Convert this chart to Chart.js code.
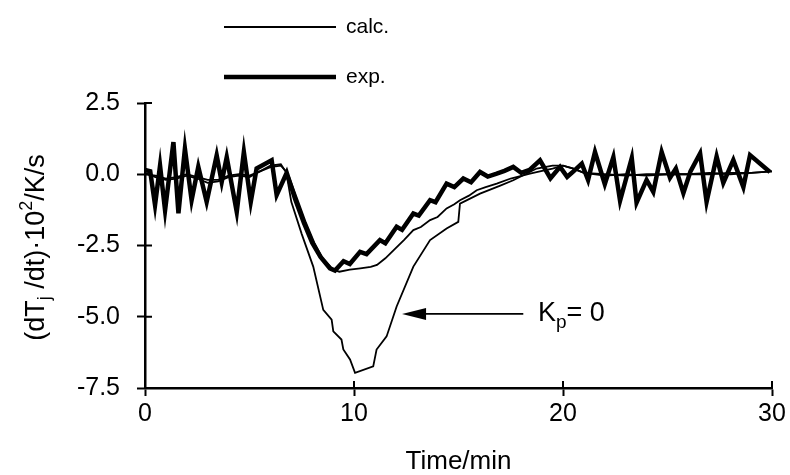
<!DOCTYPE html>
<html>
<head>
<meta charset="utf-8">
<script src="https://cdn.jsdelivr.net/npm/chart.js@4.4.1/dist/chart.umd.min.js"></script>
<style>
  html, body { margin: 0; padding: 0; background: #fff; }
  #wrap { width: 790px; height: 475px; position: relative; }
</style>
</head>
<body>
<div id="wrap"><canvas id="c" width="790" height="475"></canvas></div>
<script>
// ---- data (time in min, value in 10^-2 K/s) ----
const expTime = [0.0,0.25,0.48,0.72,0.96,1.36,1.6,1.91,2.23,2.55,2.95,3.43,3.67,3.91,4.39,4.73,5.06,5.34,6.06,6.3,6.78,7.2,7.6,8.0,8.4,8.85,9.09,9.5,9.8,10.29,10.6,11.24,11.5,12.04,12.3,12.84,13.1,13.64,13.9,14.43,14.8,15.23,15.6,16.03,16.4,16.83,17.2,17.62,18.0,18.4,18.9,19.4,19.86,20.2,20.5,20.9,21.2,21.53,22.0,22.41,22.73,23.29,23.52,24.0,24.32,24.72,25.12,25.4,25.76,26.1,26.56,26.87,27.35,27.67,28.15,28.63,28.95,29.9];
const expValues = [0.15,0.1,-1.08,0.3,-1.26,1.13,-1.37,0.9,-0.91,0.26,-0.97,0.66,-0.27,0.6,-1.32,0.78,-0.97,0.2,0.49,-0.73,0.05,-0.9,-1.7,-2.4,-2.9,-3.3,-3.38,-3.05,-3.15,-2.72,-2.8,-2.31,-2.42,-1.84,-1.95,-1.38,-1.45,-0.91,-0.98,-0.33,-0.45,-0.15,-0.28,0.08,-0.08,0.02,0.12,0.26,0.05,0.15,0.49,-0.14,0.26,-0.09,0.1,0.37,-0.2,0.78,-0.35,0.6,-0.93,0.57,-1.0,-0.2,-0.62,0.78,-0.12,0.2,-0.66,0.1,0.73,-0.97,0.62,-0.3,0.5,-0.45,0.67,0.08];

const calcTime = [0,0.5,1,1.5,2,2.5,3,3.5,4,4.5,5,5.5,6,6.5,6.9,7.3,7.7,8.1,8.5,9.0,9.3,9.8,10.3,10.8,11.1,11.5,11.9,12.4,12.84,13.2,13.64,14.0,14.43,14.8,15.07,15.5,15.87,16.3,16.83,17.5,18.42,19,19.5,20,20.5,21,22,23,24,25,26,27,28,29,30];
const calcValues = [0.05,-0.1,-0.2,-0.15,-0.05,-0.15,-0.3,-0.25,-0.1,-0.05,-0.1,0.1,0.3,0.35,-0.1,-0.9,-1.7,-2.4,-2.95,-3.35,-3.42,-3.35,-3.3,-3.25,-3.18,-2.95,-2.66,-2.3,-1.96,-1.85,-1.61,-1.5,-1.2,-1.05,-0.91,-0.75,-0.56,-0.45,-0.33,-0.15,0.02,0.12,0.2,0.3,0.2,0.05,-0.05,0.0,-0.05,0.0,0.0,0.05,0.0,0.05,0.1];

const kp0Time = [0,0.5,1,1.5,2,2.5,3,3.5,4,4.5,5,5.5,6,6.5,6.75,7.0,7.5,8.05,8.53,8.93,9.01,9.4,9.49,9.81,10.05,10.92,11.08,11.56,12.04,12.84,13.64,14.43,14.99,15.07,16.03,17.0,17.62,18.74,19.5,20,20.5,21,22,23,24,25,26,27,28,29,30];
const kp0Values = [0.0,-0.05,-0.15,-0.1,0.0,-0.1,-0.2,-0.2,-0.05,0.0,-0.05,0.1,0.25,0.3,0.1,-0.97,-2.1,-3.24,-4.76,-5.1,-5.51,-5.8,-6.15,-6.5,-6.97,-6.74,-6.15,-5.69,-4.64,-3.24,-2.31,-1.9,-1.67,-1.03,-0.68,-0.4,-0.21,0.2,0.3,0.3,0.2,0.05,0.0,-0.05,0.0,0.0,0.0,0.0,0.05,0.05,0.1];

const xTicks = [0, 10, 20, 30];
const yTicks = [2.5, 0.0, -2.5, -5.0, -7.5];
const legendLabels = ['calc.', 'exp.'];
const annotationText = ['K', 'p', '= 0'];
const arrowTip = [12.3, -4.9];
const arrowTail = 18.1;
const annotationX = 18.8;

const FONT = '"Liberation Sans", Arial, Helvetica, sans-serif';

function pts(t, v) { return t.map((x, i) => ({ x: x, y: v[i] })); }

const extras = {
  id: 'extras',
  afterDraw(chart) {
    const ctx = chart.ctx;
    const xs = chart.scales.x, ys = chart.scales.y;
    const area = chart.chartArea;
    ctx.save();
    // inward tick marks (ticks cross the axes)
    ctx.strokeStyle = '#000';
    ctx.lineWidth = 2;
    ctx.beginPath();
    yTicks.forEach(v => {
      const py = ys.getPixelForValue(v);
      ctx.moveTo(area.left, py); ctx.lineTo(area.left + 7, py);
    });
    xTicks.forEach(v => {
      const px = xs.getPixelForValue(v);
      ctx.moveTo(px, area.bottom); ctx.lineTo(px, area.bottom - 7);
    });
    ctx.stroke();

    // y axis title with subscript / superscript
    ctx.fillStyle = '#000';
    const big = 27, small = 18;
    const pieces = [
      { t: '(dT', s: big, dy: 0 },
      { t: 'j', s: small, dy: 6 },
      { t: ' /dt)\u00b710', s: big, dy: 0 },
      { t: '2', s: small, dy: -12 },
      { t: '/K/s', s: big, dy: 0 }
    ];
    let total = 0;
    pieces.forEach(p => { ctx.font = p.s + 'px ' + FONT; p.w = ctx.measureText(p.t).width; total += p.w; });
    ctx.translate(44, (area.top + area.bottom) / 2 + 2);
    ctx.rotate(-Math.PI / 2);
    ctx.textBaseline = 'alphabetic';
    ctx.textAlign = 'left';
    let cx = -total / 2;
    pieces.forEach(p => { ctx.font = p.s + 'px ' + FONT; ctx.fillText(p.t, cx, p.dy); cx += p.w; });
    ctx.setTransform(1, 0, 0, 1, 0, 0);

    // legend
    const ds = chart.data.datasets;
    const legY = [27, 77];
    [0, 1].forEach(i => {
      ctx.strokeStyle = '#000';
      ctx.lineWidth = ds[i].borderWidth;
      ctx.beginPath();
      ctx.moveTo(224, legY[i]); ctx.lineTo(336, legY[i]);
      ctx.stroke();
      ctx.font = '21px ' + FONT;
      ctx.textBaseline = 'middle';
      ctx.textAlign = 'left';
      ctx.fillText(legendLabels[i], 346, legY[i]);
    });

    // arrow with K_p = 0 label
    const tipX = xs.getPixelForValue(arrowTip[0]);
    const ay = ys.getPixelForValue(arrowTip[1]);
    const tailX = xs.getPixelForValue(arrowTail);
    ctx.lineWidth = 1.6;
    ctx.beginPath();
    ctx.moveTo(tailX, ay); ctx.lineTo(tipX + 18, ay);
    ctx.stroke();
    ctx.beginPath();
    ctx.moveTo(tipX, ay); ctx.lineTo(tipX + 24, ay - 6); ctx.lineTo(tipX + 24, ay + 6); ctx.closePath();
    ctx.fill();
    let lx = xs.getPixelForValue(annotationX);
    ctx.textBaseline = 'middle';
    ctx.font = '27px ' + FONT;
    ctx.fillText(annotationText[0], lx, ay);
    lx += ctx.measureText(annotationText[0]).width;
    ctx.font = '19px ' + FONT;
    ctx.fillText(annotationText[1], lx, ay + 9);
    lx += ctx.measureText(annotationText[1]).width;
    ctx.font = '27px ' + FONT;
    ctx.fillText(annotationText[2], lx, ay);
    ctx.restore();
  }
};

new Chart(document.getElementById('c'), {
  type: 'line',
  data: {
    datasets: [
      { label: 'calc.', data: pts(calcTime, calcValues), borderColor: '#000', borderWidth: 1.8, pointRadius: 0, tension: 0, fill: false },
      { label: 'exp.', data: pts(expTime, expValues), borderColor: '#000', borderWidth: 4.5, pointRadius: 0, tension: 0, fill: false, borderJoinStyle: 'miter' },
      { label: 'calc. (Kp = 0)', data: pts(kp0Time, kp0Values), borderColor: '#000', borderWidth: 1.8, pointRadius: 0, tension: 0, fill: false }
    ]
  },
  options: {
    responsive: false,
    animation: false,
    devicePixelRatio: 1,
    layout: { padding: { left: 0, right: 18, top: 103, bottom: 0 } },
    plugins: { legend: { display: false }, tooltip: { enabled: false } },
    scales: {
      x: {
        type: 'linear', min: 0, max: 30,
        afterFit(s) { s.height = 87; },
        afterBuildTicks(s) { s.ticks = xTicks.map(v => ({ value: v })); },
        grid: { display: true, drawOnChartArea: false, drawTicks: true, tickLength: 8, tickWidth: 2, tickColor: '#000' },
        border: { display: true, color: '#000', width: 2.5 },
        ticks: { color: '#000', font: { family: FONT, size: 25 }, padding: 3, maxRotation: 0 },
        title: { display: true, text: 'Time/min', color: '#000', font: { family: FONT, size: 26, lineHeight: 1 }, padding: { top: 0, bottom: 0 } }
      },
      y: {
        type: 'linear', min: -7.5, max: 2.5,
        afterFit(s) { s.width = 145; },
        afterBuildTicks(s) { s.ticks = yTicks.map(v => ({ value: v })); },
        grid: { display: true, drawOnChartArea: false, drawTicks: true, tickLength: 8, tickWidth: 2, tickColor: '#000' },
        border: { display: true, color: '#000', width: 2.5 },
        ticks: { color: '#000', font: { family: FONT, size: 25 }, padding: 17, callback: v => Number(v).toFixed(1) }
      }
    }
  },
  plugins: [extras]
});
</script>
</body>
</html>
